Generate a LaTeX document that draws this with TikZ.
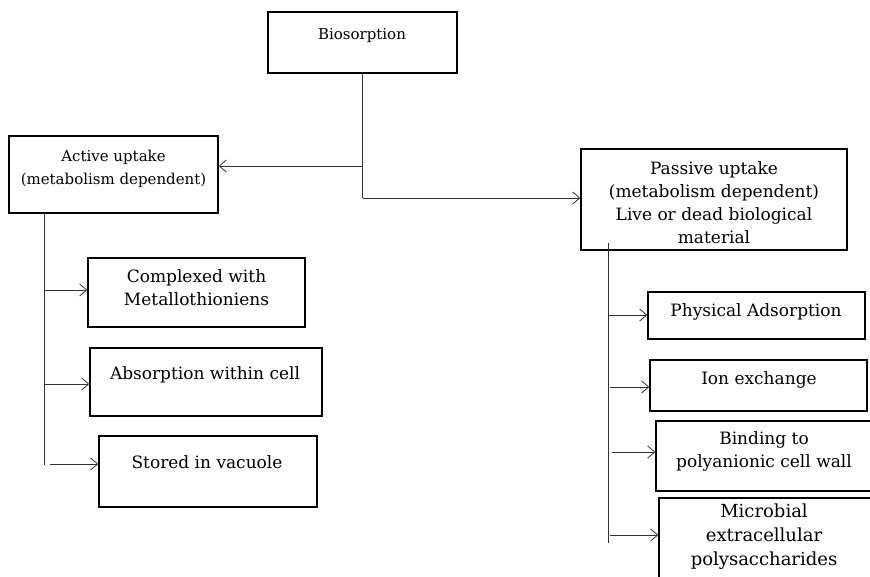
\documentclass[tikz,border=0pt]{standalone}
\usepackage{fontspec}
\setmainfont{DejaVu Serif}
\usetikzlibrary{arrows.meta}
\begin{document}
\begin{tikzpicture}[x=1pt,y=-1pt,
  box/.style={draw=black,line width=1.4pt,inner sep=0pt},
  lbl/.style={align=center,inner sep=0pt,font=\fontsize{17}{23}\selectfont},
  lbls/.style={lbl,font=\fontsize{15}{23}\selectfont},
  conn/.style={draw=black!80,line width=0.8pt},
  arr/.style={conn,-{Straight Barb[length=7pt,width=12pt,line width=0.8pt]}}]
\useasboundingbox[fill=white] (0,0) rectangle (870,576);
% boxes
\node[box,minimum width=189pt,minimum height=61pt] (bio) at (362.5,42.5) {};
\node[lbls] (tbio) at (362,36) {Biosorption};
\node[box,minimum width=209pt,minimum height=77pt] (act) at (113.5,174.5) {};
\node[lbls] (tact) at (113.5,168.5) {Active uptake\\(metabolism dependent)};
\node[box,minimum width=266pt,minimum height=101pt] (pas) at (714,199.5) {};
\node[lbl] (tpas) at (714,202.5) {Passive uptake\\(metabolism dependent)\\Live or dead biological\\material};
\node[box,minimum width=217pt,minimum height=69pt] (cmp) at (196.5,292.5) {};
\node[lbl] (tcmp) at (196.5,288) {Complexed with\\Metallothioniens};
\node[box,minimum width=232pt,minimum height=68pt] (abs) at (206,382) {};
\node[lbl] (tabs) at (205,375) {Absorption within cell};
\node[box,minimum width=218pt,minimum height=71pt] (sto) at (208,471.5) {};
\node[lbl] (tsto) at (207,462) {Stored in vacuole};
\node[box,minimum width=217pt,minimum height=47pt] (phy) at (756.5,315.5) {};
\node[lbl] (tphy) at (756,312) {Physical Adsorption};
\node[box,minimum width=217pt,minimum height=51pt] (ion) at (758.5,385.5) {};
\node[lbl] (tion) at (759,380) {Ion exchange};
\node[box,minimum width=216pt,minimum height=70pt] (bin) at (764,456) {};
\node[lbl] (tbin) at (764,451.5) {Binding to\\polyanionic cell wall};
\node[box,minimum width=216pt,minimum height=100pt] (mic) at (767,548) {};
\node[lbl,font=\fontsize{18}{24}\selectfont] (tmic) at (764,537) {Microbial\\extracellular\\polysaccharides};
% connectors from Biosorption
\coordinate (j1) at (bio.south |- 0,166);
\coordinate (j2) at (bio.south |- 0,198);
\draw[conn] (bio.south) -- (j2);
\draw[arr] (j1) -- (act.east |- j1);
\draw[arr] (j2) -- (pas.west |- j2);
% active trunk
\coordinate (at0) at (44,213);
\coordinate (at1) at (44,465);
\draw[conn] (at0) -- (at1);
\draw[arr] (44,290) -- (cmp.west |- 0,290);
\draw[arr] (44,384) -- (abs.west |- 0,384);
\coordinate (s0) at (50,464);
\draw[arr] (s0) -- (sto.west |- s0);
% passive trunk
\coordinate (pt0) at (608,243);
\coordinate (pt1) at (608,543);
\draw[conn] (pt0) -- (pt1);
\draw[arr] (608,315) -- (phy.west |- 0,315);
\draw[arr] (610,387) -- (ion.west |- 0,387);
\draw[arr] (612,452) -- (bin.west |- 0,452);
\draw[arr] (610,535) -- (mic.west |- 0,535);
\end{tikzpicture}
\end{document}
